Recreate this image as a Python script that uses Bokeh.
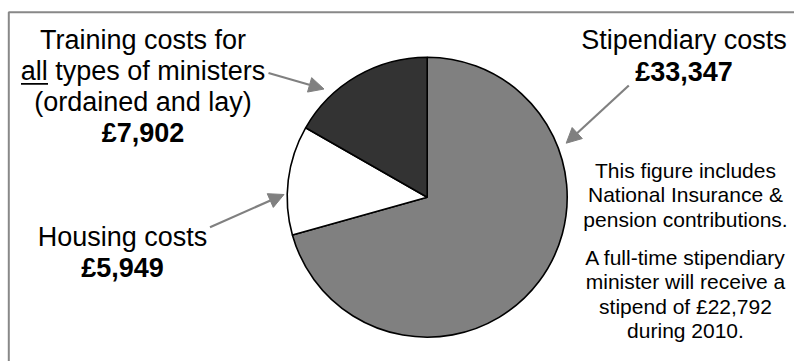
from bokeh.plotting import figure
from bokeh.models import ColumnDataSource, Range1d, Arrow, NormalHead
from bokeh.core.properties import value
from bokeh.embed import file_html
from bokeh.resources import INLINE
import math

# ---- data ----
categories = ["Stipendiary costs", "Housing costs", "Training costs"]
amounts = [33347, 5949, 7902]
colors = ["#808080", "#ffffff", "#333333"]

training_lines = ["Training costs for", "all types of ministers", "(ordained and lay)", "£7,902"]
housing_lines = ["Housing costs", "£5,949"]
stipend_lines = ["Stipendiary costs", "£33,347"]
note_lines = ["This figure includes", "National Insurance &", "pension contributions.",
              "A full-time stipendiary", "minister will receive a", "stipend of £22,792", "during 2010."]

W, H = 794, 361
FONT = "Liberation Sans"

def sy(y):  # screen y -> data y
    return H - y

p = figure(width=W, height=H, x_range=Range1d(0, W), y_range=Range1d(0, H),
           x_axis_type=None, y_axis_type=None, min_border=0,
           toolbar_location=None, output_backend="svg")
p.grid.visible = False
p.outline_line_color = None
p.background_fill_color = "white"

# frame
p.quad(left=[8.3], right=[820], top=[sy(11.8)], bottom=[sy(400)],
       fill_color=None, line_color="#888888", line_width=2)

# pie
total = sum(amounts)
starts, ends = [], []
cum = 0.0
for a in amounts:
    starts.append(math.pi / 2 - 2 * math.pi * cum / total)
    cum += a
    ends.append(math.pi / 2 - 2 * math.pi * cum / total)
src = ColumnDataSource(dict(cat=categories, amt=amounts, start=starts, end=ends, color=colors))
p.wedge(x=426.7, y=sy(196.7), radius=140, start_angle="start", end_angle="end",
        direction="clock", fill_color="color", line_color="black", line_width=1.6, source=src)

# arrows
for (x0, y0, x1, y1) in [(268, 72.5, 323.5, 88.5), (209.5, 226.7, 283.5, 194), (628.3, 85, 565.7, 142.7)]:
    p.add_layout(Arrow(end=NormalHead(size=15, fill_color="#808080", line_color="#808080", line_width=1),
                       x_start=x0, y_start=sy(y0), x_end=x1, y_end=sy(y1),
                       line_color="#808080", line_width=2.2))

def draw_lines(lines, x, baselines, size, shift, bold_idx=()):
    for i, (t, b) in enumerate(zip(lines, baselines)):
        style = "bold" if i in bold_idx else "normal"
        p.text(x=[x], y=[sy(b - shift)], text=[t], text_font=value(FONT), text_font_size=size,
               text_font_style=style, text_align="center", text_baseline="alphabetic",
               text_color="black")

BIG = "27px"
SMALL = "21px"
BS, SS = 9, 7
draw_lines(training_lines, 142.5, [48, 79, 110, 141], BIG, BS, bold_idx=(3,))
draw_lines(housing_lines, 122, [245.5, 276.5], BIG, BS, bold_idx=(1,))
draw_lines(stipend_lines, 683.5, [48, 80], BIG, BS, bold_idx=(1,))
draw_lines(note_lines, 685, [176.7, 201.3, 225.9, 263.5, 288, 312.5, 337], SMALL, SS)

# underline of "all"
p.segment(x0=[20.5], y0=[sy(83.3)], x1=[47.5], y1=[sy(83.3)], line_color="black", line_width=1.8)

open("out.html", "w").write(file_html(p, INLINE))
